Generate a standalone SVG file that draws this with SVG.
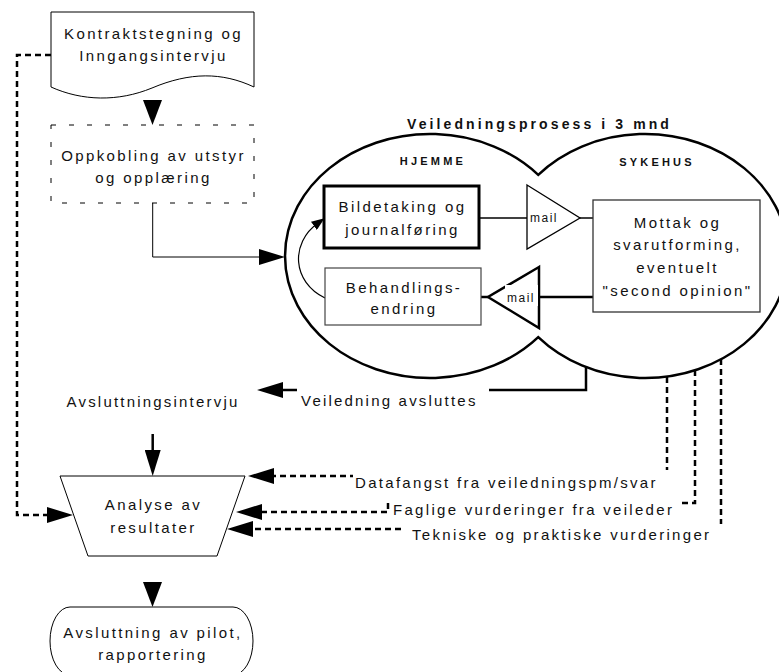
<svg xmlns="http://www.w3.org/2000/svg" width="779" height="672" viewBox="0 0 779 672">
<style>
.t{font-family:"Liberation Sans",Arial,sans-serif;font-size:15px;letter-spacing:2.4px;fill:#111}
.m{text-anchor:middle}
.b{font-weight:bold}
.mail{font-family:"Liberation Sans",Arial,sans-serif;font-size:12px;letter-spacing:1.5px;fill:#111}
.thin{fill:#fff;stroke:#000;stroke-width:1}
.ln{fill:none;stroke:#000;stroke-width:1.2}
.thk{fill:none;stroke:#000;stroke-width:2.5}
.dash{fill:none;stroke:#000;stroke-width:2.5;stroke-dasharray:6 4}
.bg{fill:#fff;stroke:none}
</style>
<defs>
<marker id="ah" viewBox="0 0 26 16" refX="16" refY="8" markerWidth="26" markerHeight="16" markerUnits="userSpaceOnUse" orient="auto"><path d="M0,0 L26,8 L0,16 Z" fill="#000"/></marker>
<marker id="ahv" viewBox="0 0 25 19" refX="15" refY="9.5" markerWidth="25" markerHeight="19" markerUnits="userSpaceOnUse" orient="auto"><path d="M0,0 L25,9.5 L0,19 Z" fill="#000"/></marker>
<marker id="ahs" viewBox="0 0 13 10" refX="5" refY="5" markerWidth="13" markerHeight="10" markerUnits="userSpaceOnUse" orient="auto"><path d="M0,0 L13,5 L0,10 Z" fill="#000"/></marker>
</defs>
<rect width="779" height="672" fill="#fff"/>

<g id="veiledningsprosess">
<path d="M538.25,174.8 A145,122 0 1,0 538.25,337.2 A143,122 0 1,0 538.25,174.8 Z" fill="#fff" stroke="#000" stroke-width="2.5"/>
<text class="t b" x="407" y="129" style="font-size:14px;letter-spacing:3.1px">Veiledningsprosess i 3 mnd</text>
<text class="t b m" x="433" y="165" style="font-size:11px;letter-spacing:3.2px">HJEMME</text>
<text class="t b m" x="657" y="166" style="font-size:11px;letter-spacing:3.2px">SYKEHUS</text>
</g>

<g id="connectors">
<path class="ln" d="M152.5,100 L152.5,115" marker-end="url(#ahv)"/>
<path class="dash" d="M51,55 H17 V515 H63" marker-end="url(#ah)"/>
<path class="ln" style="stroke-width:1" d="M152.7,203 V257 H275" marker-end="url(#ah)"/>
<path class="ln" d="M325,298 C292,282 290,243 318,223" marker-end="url(#ahs)"/>
<path class="ln" style="stroke-width:1.5" d="M479,218 H527"/>
<path class="ln" style="stroke-width:1.5" d="M580,218 H593"/>
<path class="thk" d="M593,297 H539"/>
<path class="thk" d="M488,297 H481"/>
<path class="thk" d="M586,367 V390 H267" marker-end="url(#ah)"/>
<path class="thk" d="M152.7,434 V466" marker-end="url(#ah)"/>
<path class="dash" d="M667,377 V476 H258" marker-end="url(#ah)"/>
<path class="dash" d="M695,370 V503 H388 V512 H246" marker-end="url(#ah)"/>
<path class="dash" d="M721,359 V529 H237" marker-end="url(#ah)"/>
<path class="ln" d="M152.5,582 L152.5,597" marker-end="url(#ahv)"/>
</g>

<g id="kontrakt">
<path class="thin" d="M51,12 H254 V87 C222,72 190,72 152,88 C118,102 82,101 51,87 Z"/>
<text class="t m" x="153.5" y="39">Kontraktstegning og</text>
<text class="t m" x="153.5" y="61">Inngangsintervju</text>
</g>

<g id="oppkobling">
<rect x="51" y="125" width="203" height="78" fill="#fff" stroke="#000" stroke-width="1" stroke-dasharray="5 13"/>
<text class="t m" x="153.5" y="161">Oppkobling av utstyr</text>
<text class="t m" x="153.5" y="183">og opplæring</text>
</g>

<g id="bildetaking">
<rect x="324" y="186" width="155" height="62" fill="#fff" stroke="#000" stroke-width="3"/>
<text class="t m" x="402.5" y="212">Bildetaking og</text>
<text class="t m" x="402.5" y="235">journalføring</text>
</g>

<g id="behandling">
<rect x="325" y="268" width="156" height="57" fill="#fff" stroke="#444" stroke-width="1.2"/>
<text class="t m" x="404" y="292.5">Behandlings-</text>
<text class="t m" x="404" y="314">endring</text>
</g>

<g id="mail1">
<polygon points="527,185 580,218 527,249" fill="#fff" stroke="#000" stroke-width="1.3"/>
<text class="mail" x="530" y="222">mail</text>
</g>

<g id="mail2">
<polygon points="539,267 488,297 539,328" fill="#fff" stroke="#000" stroke-width="2.5"/>
<rect class="bg" x="505" y="285" width="33" height="21"/>
<text class="mail" x="507" y="302">mail</text>
</g>

<g id="mottak">
<rect x="593" y="200" width="167" height="112" fill="#fff" stroke="#333" stroke-width="1.3"/>
<text class="t m" x="677.5" y="228">Mottak og</text>
<text class="t m" x="677.5" y="250">svarutforming,</text>
<text class="t m" x="677.5" y="273">eventuelt</text>
<text class="t m" x="677.5" y="296">"second opinion"</text>
</g>

<g id="avslutningsintervju">
<text class="t m" x="153" y="407" style="letter-spacing:2.2px">Avsluttningsintervju</text>
</g>

<g id="analyse">
<path class="thin" d="M60,476 H245 L217,556 H88 Z"/>
<text class="t m" x="153.5" y="510">Analyse av</text>
<text class="t m" x="153.5" y="533">resultater</text>
</g>

<g id="avslutning">
<path class="thin" d="M70,607 H233 A20,34 0 0 1 233,675 H70 A20,34 0 0 1 70,607 Z"/>
<text class="t m" x="153" y="638">Avsluttning av pilot,</text>
<text class="t m" x="153" y="660">rapportering</text>
</g>

<g id="connector-labels">
<rect class="bg" x="297" y="386" width="192" height="24"/>
<text class="t" x="301" y="406" style="letter-spacing:2.2px">Veiledning avsluttes</text>
<rect class="bg" x="353" y="470" width="317" height="23"/>
<text class="t" x="355" y="488" style="letter-spacing:2.3px">Datafangst fra veiledningspm/svar</text>
<rect class="bg" x="390" y="500" width="290" height="21"/>
<text class="t" x="393" y="515" style="letter-spacing:2.3px">Faglige vurderinger fra veileder</text>
<rect class="bg" x="405" y="524" width="318" height="22"/>
<text class="t" x="412" y="540" style="letter-spacing:2.3px">Tekniske og praktiske vurderinger</text>
</g>
</svg>
